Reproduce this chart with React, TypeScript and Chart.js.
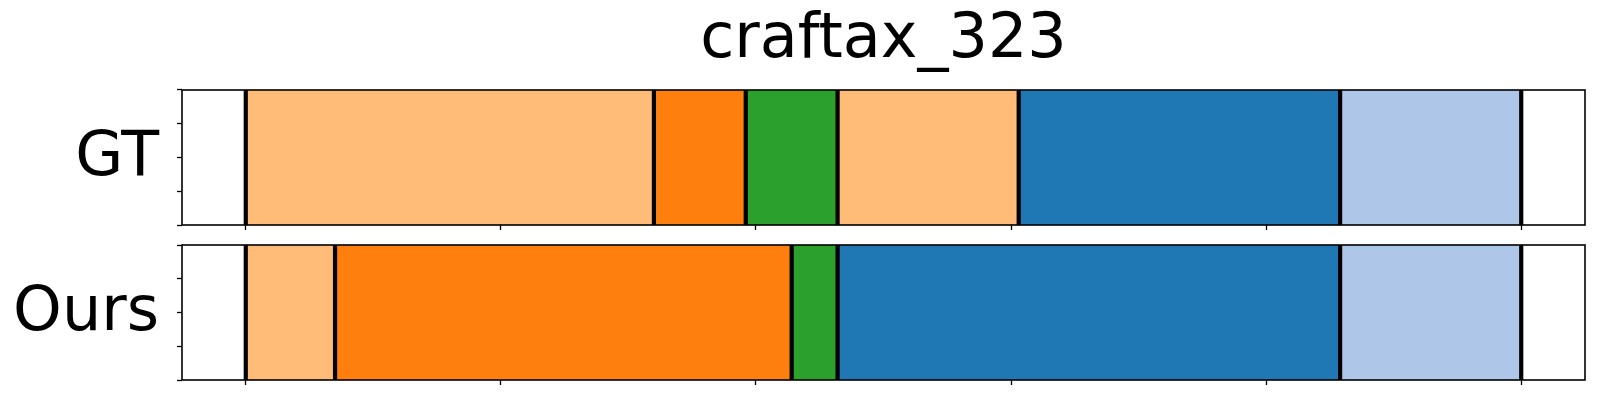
import React, { useEffect, useRef } from 'react';
import { Chart, registerables } from 'chart.js';

Chart.register(...registerables);

const chartTitle = 'craftax_323';
const rowLabels = ['GT', 'Ours'];
const xTicks = [0, 100, 200, 300, 400, 500];
const xMin = -25;
const xMax = 525;
const yTicks = [0, 0.25, 0.5, 0.75, 1];

const gtBounds = [0, 160, 196, 232, 303, 429, 500];
const gtColors = ['#ffbb78', '#ff7f0e', '#2ca02c', '#ffbb78', '#1f77b4', '#aec7e8'];

const oursBounds = [0, 35, 214, 232, 429, 500];
const oursColors = ['#ffbb78', '#ff7f0e', '#2ca02c', '#1f77b4', '#aec7e8'];

const FONT = "'DejaVu Sans', sans-serif";

const panelPlugin = {
  id: 'panel',
  afterDatasetsDraw(chart: any, _args: any, opts: any) {
    const { ctx, chartArea, scales } = chart;
    ctx.save();
    ctx.strokeStyle = '#000';
    ctx.lineWidth = 4.2;
    for (const b of opts.bounds) {
      const x = scales.x.getPixelForValue(b);
      ctx.beginPath();
      ctx.moveTo(x, chartArea.top);
      ctx.lineTo(x, chartArea.bottom);
      ctx.stroke();
    }
    ctx.restore();
  },
  afterDraw(chart: any, _args: any, opts: any) {
    const { ctx, chartArea } = chart;
    ctx.save();
    ctx.strokeStyle = '#000';
    ctx.lineWidth = 1.6;
    ctx.strokeRect(chartArea.left, chartArea.top, chartArea.right - chartArea.left, chartArea.bottom - chartArea.top);
    ctx.fillStyle = '#000';
    ctx.font = `62px ${FONT}`;
    ctx.textAlign = 'right';
    ctx.textBaseline = 'alphabetic';
    const cy = (chartArea.top + chartArea.bottom) / 2;
    ctx.fillText(opts.label, chartArea.left - 23, cy + 17);
    ctx.restore();
  },
};

function makeConfig(label: string, bounds: number[], colors: string[], showTitle: boolean, padTop: number, padBottom: number): any {
  const datasets = colors.map((c, i) => ({
    data: [[bounds[i], bounds[i + 1]]],
    backgroundColor: c,
    borderWidth: 0,
    grouped: false,
    barPercentage: 1,
    categoryPercentage: 1,
    yAxisID: 'yb',
    xAxisID: 'x',
  }));
  return {
    type: 'bar',
    data: { labels: ['row'], datasets },
    plugins: [panelPlugin],
    options: {
      indexAxis: 'y',
      animation: false,
      responsive: false,
      devicePixelRatio: 1,
      layout: { padding: { left: 176, right: 15, top: padTop, bottom: padBottom } },
      plugins: {
        legend: { display: false },
        tooltip: { enabled: false },
        title: {
          display: showTitle,
          text: chartTitle,
          color: '#000',
          fullSize: false,
          font: { family: FONT, size: 62, weight: 'normal', lineHeight: 1.2 },
          padding: { top: 4, bottom: 11.6 },
        },
        panel: { bounds, label },
      },
      scales: {
        x: {
          type: 'linear',
          position: 'bottom',
          min: xMin,
          max: xMax,
          offset: false,
          afterBuildTicks: (scale: any) => {
            scale.ticks = xTicks.map((v) => ({ value: v }));
          },
          afterFit: (scale: any) => {
            scale.height = 10;
          },
          ticks: { display: false, stepSize: 100, includeBounds: false, autoSkip: false },
          grid: { display: true, offset: false, drawOnChartArea: false, drawTicks: true, tickLength: 5, tickColor: '#000', tickWidth: 1.3 },
          border: { display: false },
        },
        yb: {
          type: 'category',
          display: false,
          offset: true,
        },
        yt: {
          type: 'linear',
          position: 'left',
          min: 0,
          max: 1,
          offset: false,
          afterBuildTicks: (scale: any) => {
            scale.ticks = yTicks.map((v) => ({ value: v }));
          },
          afterFit: (scale: any) => {
            scale.width = 6;
          },
          ticks: { display: false, stepSize: 0.25, includeBounds: false, autoSkip: false },
          grid: { display: true, offset: false, drawOnChartArea: false, drawTicks: true, tickLength: 5, tickColor: '#000', tickWidth: 1.3 },
          border: { display: false },
        },
      },
    },
  };
}

function Panel(props: { label: string; bounds: number[]; colors: string[]; showTitle: boolean; top: number; height: number; padTop: number; padBottom: number }) {
  const ref = useRef<HTMLCanvasElement | null>(null);
  useEffect(() => {
    if (!ref.current) return;
    const chart = new Chart(ref.current, makeConfig(props.label, props.bounds, props.colors, props.showTitle, props.padTop, props.padBottom));
    return () => chart.destroy();
  }, []);
  return (
    <canvas
      ref={ref}
      width={1600}
      height={props.height}
      style={{ position: 'absolute', left: 0, top: props.top, width: 1600, height: props.height, display: 'block' }}
    />
  );
}

export default function App() {
  return (
    <div style={{ position: 'fixed', left: 0, top: 0, width: 1600, height: 400, background: '#fff' }}>
      <Panel label={rowLabels[0]} bounds={gtBounds} colors={gtColors} showTitle={true} top={0} height={235} padTop={0} padBottom={0} />
      <Panel label={rowLabels[1]} bounds={oursBounds} colors={oursColors} showTitle={false} top={235} height={165} padTop={10} padBottom={10} />
    </div>
  );
}
